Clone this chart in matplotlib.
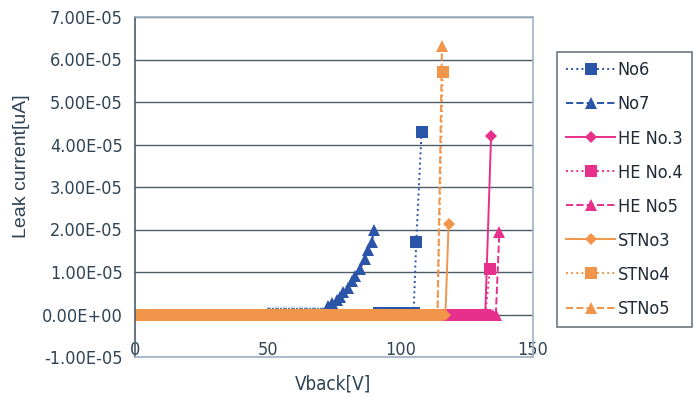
import numpy as np
import matplotlib.pyplot as plt
from matplotlib.ticker import FormatStrFormatter

# ---- data ----
# blue: No6 / No7
no6_v = list(range(0, 106)) + [106, 108]
no6_i = [0.0] * 92 + [3e-7] * 14 + [1.71e-5, 4.29e-5]

no7_v = list(range(0, 72)) + [72.9, 74.1, 76.0, 77.3, 78.5, 80.4, 81.7, 82.9, 84.8, 86.7, 87.9, 89.2, 90.1]
no7_i = [0.0] * 50 + [3e-7] * 22 + [2.1e-6, 2.8e-6, 3.4e-6, 4.2e-6, 5.2e-6, 6.3e-6, 7.9e-6,
                                     9.1e-6, 1.07e-5, 1.31e-5, 1.51e-5, 1.71e-5, 1.98e-5]

# pink: HE series
he3_v = list(range(0, 133)) + [134.2]
he3_i = [0.0] * 133 + [4.2e-5]
he4_v = list(range(0, 133)) + [133.8]
he4_i = [0.0] * 133 + [1.08e-5]
he5_v = list(range(0, 137)) + [137.3]
he5_i = [0.0] * 137 + [1.93e-5]

# orange: ST series
st3_v = list(range(0, 118)) + [118.2]
st3_i = [0.0] * 118 + [2.14e-5]
st4_v = list(range(0, 115)) + [116.0]
st4_i = [0.0] * 115 + [5.71e-5]
st5_v = list(range(0, 115)) + [115.7]
st5_i = [0.0] * 115 + [6.31e-5]

blue = '#2b56a8'
pink = '#e6308c'
orange = '#f0954a'
txt = '#2f4455'

plt.rcParams['font.family'] = ['Liberation Sans Narrow', 'DejaVu Sans']
plt.rcParams['font.stretch'] = 'condensed'

fig = plt.figure(figsize=(6.96, 4.07), dpi=100)
ax = fig.add_axes([135/696, 1-357/407, 398/696, 340/407])

series = [
    (no6_v, no6_i, blue, ':', 's', 'No6'),
    (no7_v, no7_i, blue, '--', '^', 'No7'),
    (he3_v, he3_i, pink, '-', 'D', 'HE No.3'),
    (he4_v, he4_i, pink, ':', 's', 'HE No.4'),
    (he5_v, he5_i, pink, '--', '^', 'HE No5'),
    (st3_v, st3_i, orange, '-', 'D', 'STNo3'),
    (st4_v, st4_i, orange, ':', 's', 'STNo4'),
    (st5_v, st5_i, orange, '--', '^', 'STNo5'),
]
for v, i, c, ls, mk, lab in series:
    ms = {'D': 6.5, 's': 8, '^': 9}[mk]
    ax.plot(v, i, color=c, linestyle=ls, marker=mk, markersize=ms, linewidth=1.4,
            markeredgewidth=0, label=lab)

ax.set_xlim(0, 150)
ax.set_ylim(-1e-5, 7e-5)
ax.set_xticks([0, 50, 100, 150])
ax.set_yticks(np.arange(-1e-5, 7.5e-5, 1e-5))
ax.yaxis.set_major_formatter(FormatStrFormatter('%.2E'))
ax.grid(axis='y', color='#4d5d68', linewidth=1.0)
ax.set_axisbelow(True)

ax.tick_params(axis='y', length=0, pad=9, labelsize=13, labelcolor=txt)
ax.tick_params(axis='x', length=0, pad=1.5, labelsize=13, labelcolor=txt)
plt.setp(ax.get_xticklabels(), va='bottom')

for s in ['top', 'right', 'bottom']:
    ax.spines[s].set_color('#9fb2c4')
    ax.spines[s].set_linewidth(1.2)
ax.spines['left'].set_color('#4a5c6a')
ax.spines['left'].set_linewidth(1.2)

fig.text(22/696, 1-166/407, 'Leak current[uA]', rotation=90, ha='center', va='center',
         fontsize=14, color=txt, family=['Liberation Sans', 'DejaVu Sans'], stretch='normal')
fig.text(333/696, 1-384/407, 'Vback[V]', ha='center', va='center', fontsize=13.5, color=txt)

leg = ax.legend(loc='upper left', bbox_to_anchor=(557/696, 1-52/407), bbox_transform=fig.transFigure,
                fontsize=13, frameon=True, fancybox=False, edgecolor='#4a5560', handlelength=2.7,
                handletextpad=0.15, labelspacing=0.89, borderpad=0.52, borderaxespad=0)
leg.get_frame().set_linewidth(1.2)
for t in leg.get_texts():
    t.set_color('#1e2a35')

fig.savefig('out.png', dpi=100)
